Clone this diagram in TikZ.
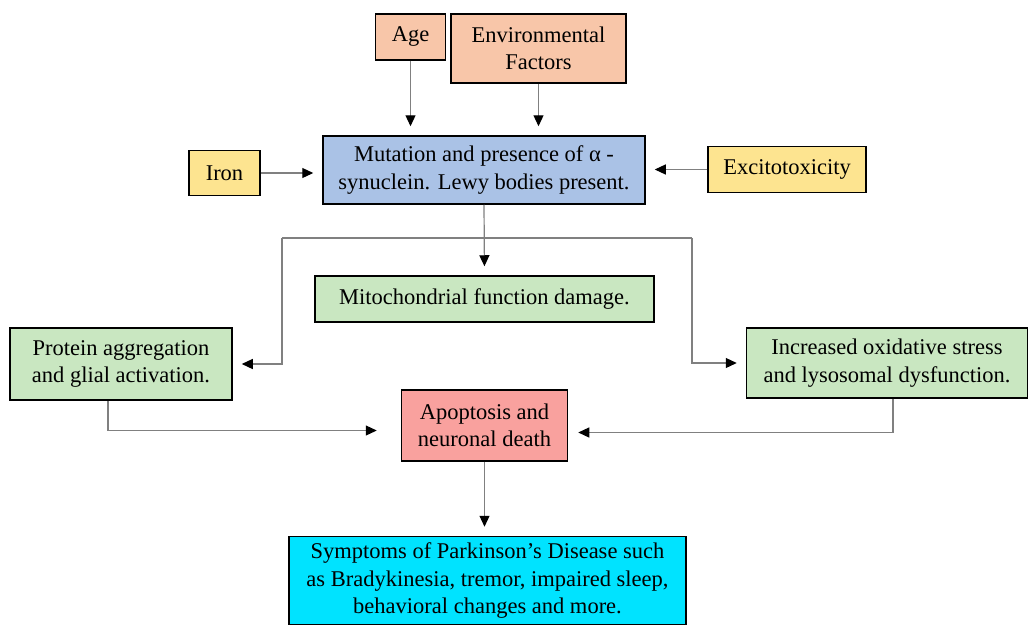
\documentclass[tikz,border=0pt]{standalone}
\usepackage{fontspec}
\setmainfont{Liberation Serif}
\usetikzlibrary{arrows.meta}
\definecolor{peach}{HTML}{F8C6A9}
\definecolor{bluebox}{HTML}{AAC2E6}
\definecolor{yellowbox}{HTML}{FDE490}
\definecolor{greenbox}{HTML}{C9E7C1}
\definecolor{redbox}{HTML}{F9A19E}
\definecolor{cyanbox}{HTML}{00E3FF}
\definecolor{linegray}{HTML}{808080}
\tikzset{
  box/.style={draw=black, line width=1.5pt, align=center, inner sep=0pt,
    font=\fontsize{22.5}{27.5}\selectfont},
  conn/.style={draw=linegray, line width=1.2pt,
    -{Triangle[length=11pt,width=10pt,color=black]}},
}
\begin{document}
\begin{tikzpicture}[x=1pt,y=-1pt]
\useasboundingbox[fill=white] (0,0) rectangle (1030,626);
\node[box, fill=peach, minimum width=70pt, minimum height=46pt] (age) at (410.5,37) {Age};
\node[box, fill=peach, minimum width=175pt, minimum height=69pt] (env) at (538.5,48.5) {Environmental\\Factors};
\node[box, fill=bluebox, minimum width=322pt, minimum height=68pt] (blue) at (484,170) {Mutation and presence of α -\\synuclein. Lewy bodies present.};
\node[box, fill=yellowbox, minimum width=71pt, minimum height=45pt] (iron) at (224.5,173) {Iron};
\node[box, fill=yellowbox, minimum width=158pt, minimum height=46pt] (exc) at (787,169.5) {Excitotoxicity};
\node[box, fill=greenbox, minimum width=339pt, minimum height=46pt] (mito) at (484.5,299) {Mitochondrial function damage.};
\node[box, fill=greenbox, minimum width=222pt, minimum height=72pt] (prot) at (121,364) {Protein aggregation\\and glial activation.};
\node[box, fill=greenbox, minimum width=281pt, minimum height=70pt] (oxi) at (887,363) {Increased oxidative stress\\and lysosomal dysfunction.};
\node[box, fill=redbox, minimum width=166pt, minimum height=71pt] (apop) at (484.5,425.5) {Apoptosis and\\neuronal death};
\node[box, fill=cyanbox, minimum width=397pt, minimum height=88pt] (symp) at (487.5,580.5) {Symptoms of Parkinson’s Disease such\\as Bradykinesia, tremor, impaired sleep,\\behavioral changes and more.};
\coordinate (bl) at (282,238);
\coordinate (brr) at (692,238);
\draw[conn, shorten >=9pt] (age.south) -- (age.south |- blue.north);
\draw[conn, shorten >=9pt] (env.south) -- (env.south |- blue.north);
\draw[conn, shorten >=9pt] (iron.east) -- (iron.east -| blue.west);
\draw[conn, shorten >=9pt] (exc.west) -- (exc.west -| blue.east);
\draw[conn, shorten >=9pt] (blue.south) -- (mito.north);
\draw[draw=linegray, line width=1.2pt] (bl) -- (brr);
\draw[conn, shorten >=9pt] (bl) |- (prot.east);
\draw[conn, shorten >=9pt] (brr) |- (oxi.west);
\draw[conn, shorten >=24pt] ([xshift=-13pt]prot.south) |- ([yshift=-5pt]apop.west);
\draw[conn, shorten >=10pt] ([xshift=6pt]oxi.south) |- ([yshift=-7pt]apop.east);
\draw[conn, shorten >=9pt] (apop.south) -- (apop.south |- symp.north);
\end{tikzpicture}
\end{document}
